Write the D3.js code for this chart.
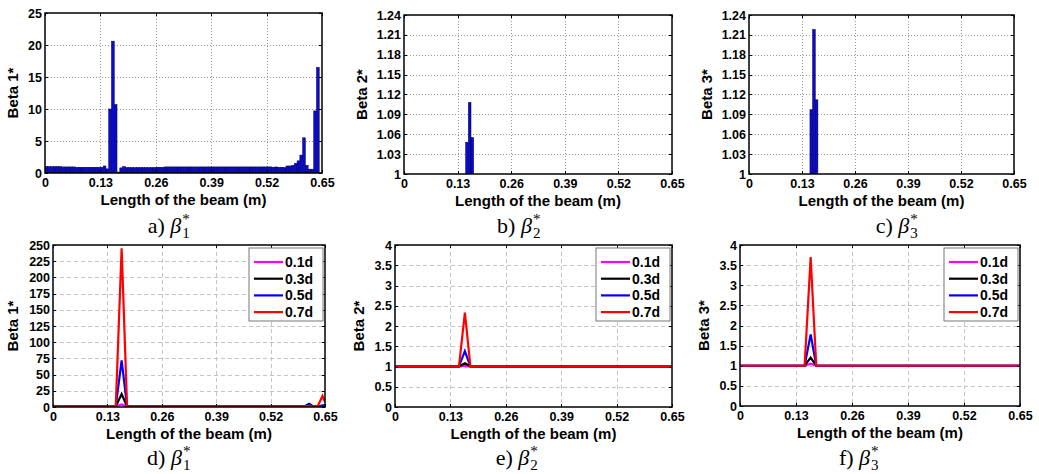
<!DOCTYPE html>
<html>
<head>
<meta charset="utf-8">
<script src="https://cdn.jsdelivr.net/npm/d3@7"></script>
<style>
  body { margin: 0; background: #fff; }
  .sans { font-family: "Liberation Sans", Arial, sans-serif; }
  .serif { font-family: "Liberation Serif", "Times New Roman", serif; }
</style>
</head>
<body>
<svg id="chart"></svg>
<script>
// ---- data ----
const xTicks = [0, 0.13, 0.26, 0.39, 0.52, 0.65];
const barStep = 0.0065; // element length along the beam

// panel a: beta 1* per element (99 elements)
const beta1Bars = [
  1.0, 1.0, 1.0, 1.0, 1.0, 1.0, 0.95, 0.95, 0.95, 0.95,
  0.95, 0.9, 0.9, 0.9, 0.9, 0.9, 0.9, 0.9, 0.9, 0.9,
  0.9, 1.1, 0.65, 10.0, 20.6, 10.7, 0.15, 0.8, 1.0, 0.85,
  0.85, 0.85, 0.85, 0.85, 0.85, 0.85, 0.85, 0.85, 0.85, 0.85,
  0.9, 0.9, 0.9, 0.95, 0.95, 0.95, 0.95, 0.95, 0.95, 0.95,
  0.95, 0.95, 0.95, 0.95, 0.95, 0.95, 0.95, 0.95, 0.95, 0.95,
  0.95, 0.95, 0.95, 0.95, 0.95, 0.95, 0.95, 0.95, 0.95, 0.95,
  0.95, 0.95, 0.95, 0.95, 0.95, 0.95, 0.95, 0.95, 0.95, 0.95,
  0.95, 0.95, 0.9, 0.95, 0.9, 0.9, 0.85, 1.1, 1.1, 1.2,
  1.5, 1.9, 2.8, 5.5, 1.2, 0.6, 0.6, 9.7, 16.5
];
// panels b, c: only elements above 1 show
const beta2Index = [23, 24, 25];
const beta2Bars = [1.048, 1.108, 1.055];
const beta3Index = [23, 24, 25];
const beta3Bars = [1.097, 1.218, 1.112];

// panels d, e, f: crack depth series
const depthNames = ["0.1d", "0.3d", "0.5d", "0.7d"];
const depthColors = ["#ff00ff", "#000000", "#0000ff", "#ff0000"];
const lineX = [0, 0.13, 0.150, 0.164, 0.177, 0.3, 0.55, 0.595, 0.603, 0.612, 0.622, 0.632, 0.644, 0.65];
const beta1Lines = [
  [1, 1, 1, 4, 0.8, 1, 1, 1, 1, 1.2, 1, 1, 1, 1],
  [1, 1, 1, 20, 0.8, 1, 1, 1, 1.5, 5, 0.8, 0.8, 2, 2],
  [1, 1, 1, 72, 0.8, 1, 1, 1, 1.2, 3, 0.8, 0.8, 2, 2],
  [1, 1, 1, 245, 0.8, 1, 1, 1, 1, 1.2, 0.5, 0.5, 17, 8]
];
const beta2Lines = [
  [1, 1, 1, 1.02, 1, 1, 1, 1, 1, 1, 1, 1, 1, 1],
  [1, 1, 1, 1.08, 1, 1, 1, 1, 1, 1, 1, 1, 1, 1],
  [1, 1, 1, 1.38, 1, 1, 1, 1, 1, 1, 1, 1, 1, 1],
  [1, 1, 1, 2.33, 1, 1, 1, 1, 1, 1, 1, 1, 1, 1]
];
const beta3Lines = [
  [1, 1, 1, 1.05, 1, 1, 1, 1, 1, 1, 1, 1, 1, 1],
  [1, 1, 1, 1.2, 1, 1, 1, 1, 1, 1, 1, 1, 1, 1],
  [1, 1, 1, 1.78, 1, 1, 1, 1, 1, 1, 1, 1, 1, 1],
  [1, 1, 1, 3.7, 1, 1, 1, 1, 1, 1, 1, 1, 1, 1]
];

const yTicksA = [0, 5, 10, 15, 20, 25];
const yTicksBC = [1, 1.03, 1.06, 1.09, 1.12, 1.15, 1.18, 1.21, 1.24];
const yTicksD = [0, 25, 50, 75, 100, 125, 150, 175, 200, 225, 250];
const yTicksEF = [0, 0.5, 1, 1.5, 2, 2.5, 3, 3.5, 4];

// ---- layout ----
const W = 1039, H = 474;
const svg = d3.select("#chart").attr("width", W).attr("height", H);
svg.append("rect").attr("width", W).attr("height", H).attr("fill", "#fff");

const panels = [
  { id: "a", L: 45, R: 322, T: 13, B: 173, yTicks: yTicksA, ylab: "Beta 1*", labDx: 32, kind: "bar", cap: "a)", sub: "1", capX: 172, capY: 233 },
  { id: "b", L: 404, R: 672, T: 15, B: 174, yTicks: yTicksBC, ylab: "Beta 2*", labDx: 42, kind: "bar", cap: "b)", sub: "2", capX: 522, capY: 233 },
  { id: "c", L: 749, R: 1014, T: 15, B: 174, yTicks: yTicksBC, ylab: "Beta 3*", labDx: 42, kind: "bar", cap: "c)", sub: "3", capX: 900, capY: 233 },
  { id: "d", L: 53, R: 325, T: 245, B: 407, yTicks: yTicksD, ylab: "Beta 1*", labDx: 40, kind: "line", lines: beta1Lines, cap: "d)", sub: "1", capX: 172, capY: 465 },
  { id: "e", L: 395, R: 672, T: 245, B: 407, yTicks: yTicksEF, ylab: "Beta 2*", labDx: 36, kind: "line", lines: beta2Lines, cap: "e)", sub: "2", capX: 520, capY: 465 },
  { id: "f", L: 740, R: 1020, T: 245, B: 406, yTicks: yTicksEF, ylab: "Beta 3*", labDx: 36, kind: "line", lines: beta3Lines, cap: "f)", sub: "3", capX: 862, capY: 465 }
];

panels.forEach(p => {
  const g = svg.append("g");
  const x = d3.scaleLinear().domain([0, 0.65]).range([p.L, p.R]);
  const y = d3.scaleLinear().domain(d3.extent(p.yTicks)).range([p.B, p.T]);
  const dotted = p.kind === "bar";

  // grid
  const grid = g.append("g").attr("stroke", dotted ? "#999" : "#c4c4c4")
    .attr("stroke-width", 1).attr("stroke-dasharray", dotted ? "1,2" : "4,3");
  grid.selectAll(".gx").data(xTicks.slice(1, -1)).join("line")
    .attr("x1", d => Math.round(x(d)) + 0.5).attr("x2", d => Math.round(x(d)) + 0.5)
    .attr("y1", p.T).attr("y2", p.B);
  grid.selectAll(".gy").data(p.yTicks.slice(1, -1)).join("line")
    .attr("y1", d => Math.round(y(d)) + 0.5).attr("y2", d => Math.round(y(d)) + 0.5)
    .attr("x1", p.L).attr("x2", p.R);

  const clipId = "clip-" + p.id;
  g.append("clipPath").attr("id", clipId).append("rect")
    .attr("x", p.L).attr("y", p.T).attr("width", p.R - p.L).attr("height", p.B - p.T);
  const plot = g.append("g").attr("clip-path", `url(#${clipId})`);

  if (p.kind === "bar") {
    let bars;
    if (p.id === "a") bars = beta1Bars.map((v, i) => ({ i, v }));
    else if (p.id === "b") bars = beta2Index.map((i, k) => ({ i, v: beta2Bars[k] }));
    else bars = beta3Index.map((i, k) => ({ i, v: beta3Bars[k] }));
    const base = p.yTicks[0];
    plot.selectAll("rect.bar").data(bars).join("rect")
      .attr("class", "bar")
      .attr("x", d => x(d.i * barStep))
      .attr("width", x(barStep) - x(0))
      .attr("y", d => y(d.v))
      .attr("height", d => y(base) - y(d.v))
      .attr("fill", "#0a0ad2")
      .attr("stroke", "#000044")
      .attr("stroke-width", 0.5);
  } else {
    const line = d3.line().x((d, i) => x(lineX[i])).y(d => y(d));
    plot.selectAll("path.series").data(p.lines).join("path")
      .attr("class", "series")
      .attr("d", d => line(d))
      .attr("fill", "none")
      .attr("stroke", (d, i) => depthColors[i])
      .attr("stroke-width", 2.2)
      .attr("stroke-linejoin", "miter");
  }

  // ticks on all four sides (inward)
  const tk = g.append("g").attr("stroke", "#000").attr("stroke-width", 1);
  xTicks.forEach(t => {
    const xx = Math.round(x(t)) + 0.5;
    tk.append("line").attr("x1", xx).attr("x2", xx).attr("y1", p.B).attr("y2", p.B - 3);
    tk.append("line").attr("x1", xx).attr("x2", xx).attr("y1", p.T).attr("y2", p.T + 3);
  });
  p.yTicks.forEach(t => {
    const yy = Math.round(y(t)) + 0.5;
    tk.append("line").attr("x1", p.L).attr("x2", p.L + 3).attr("y1", yy).attr("y2", yy);
    tk.append("line").attr("x1", p.R).attr("x2", p.R - 3).attr("y1", yy).attr("y2", yy);
  });

  // box
  g.append("rect").attr("x", p.L).attr("y", p.T).attr("width", p.R - p.L).attr("height", p.B - p.T)
    .attr("fill", "none").attr("stroke", "#000").attr("stroke-width", 1.5);

  // tick labels via d3 axes
  const xa = g.append("g").attr("transform", `translate(0,${p.B})`)
    .call(d3.axisBottom(x).tickValues(xTicks).tickSize(0).tickPadding(5).tickFormat(d => String(d)));
  const ya = g.append("g").attr("transform", `translate(${p.L},0)`)
    .call(d3.axisLeft(y).tickValues(p.yTicks).tickSize(0).tickPadding(3).tickFormat(d => String(d)));
  [xa, ya].forEach(a => {
    a.select(".domain").remove();
    a.selectAll("text").attr("class", "sans").attr("font-size", 12.5).attr("font-weight", "bold")
      .attr("fill", "#000");
  });

  g.append("text").attr("class", "sans").attr("x", (p.L + p.R) / 2).attr("y", p.B + 32)
    .attr("text-anchor", "middle").attr("font-size", 15).attr("font-weight", "bold")
    .text("Length of the beam (m)");
  g.append("text").attr("class", "sans")
    .attr("transform", `translate(${p.L - p.labDx + 5},${(p.T + p.B) / 2}) rotate(-90)`)
    .attr("text-anchor", "middle").attr("font-size", 15).attr("font-weight", "bold")
    .text(p.ylab);

  // legend
  if (p.kind === "line") {
    const lw = 74, lh = 73;
    const lx = p.R - lw - 2, ly = p.T + 3;
    const lg = g.append("g");
    lg.append("rect").attr("x", lx).attr("y", ly).attr("width", lw).attr("height", lh)
      .attr("fill", "#fff").attr("stroke", "#777").attr("stroke-width", 1);
    depthNames.forEach((n, i) => {
      const yy = ly + 14 + i * 16.7;
      lg.append("line").attr("x1", lx + 5).attr("x2", lx + 34).attr("y1", yy).attr("y2", yy)
        .attr("stroke", depthColors[i]).attr("stroke-width", 2.2);
      lg.append("text").attr("class", "sans").attr("x", lx + 36).attr("y", yy + 5)
        .attr("font-size", 14).attr("font-weight", "bold").text(n);
    });
  }

  // caption  "a) β1*" (sub and sup stacked)
  const main = g.append("text").attr("class", "serif").attr("x", 0).attr("y", 0)
    .attr("font-size", 22).attr("fill", "#000");
  main.append("tspan").text(p.cap + " ");
  main.append("tspan").attr("font-style", "italic").text("β");
  const subT = main.append("tspan").attr("font-size", 15).attr("dx", 1).attr("dy", 5).text(p.sub);
  main.append("tspan").attr("font-size", 15).attr("dx", -7.5).attr("dy", -14).text("*");
  const tw = main.node().getComputedTextLength();
  main.attr("x", p.capX - tw / 2).attr("y", p.capY);
});
</script>
</body>
</html>
